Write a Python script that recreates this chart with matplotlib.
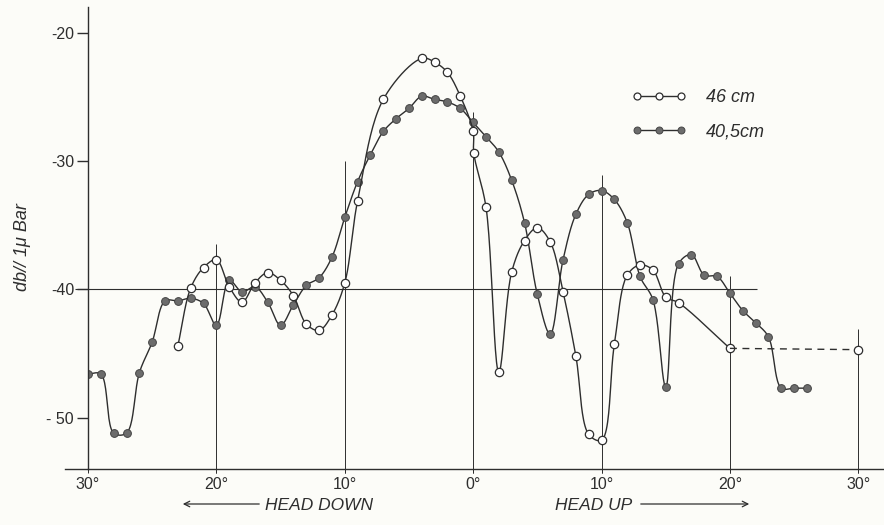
import numpy as np
import matplotlib as mpl
mpl.use('Agg')
import matplotlib.pyplot as plt

# plot settings
mpl.rcParams['font.family'] = ['Liberation Sans', 'DejaVu Sans']
mpl.rcParams['xtick.labelsize'] = 11.5
mpl.rcParams['ytick.labelsize'] = 11.5

# tilt angle [deg], head down negative / head up positive
# 46 cm
ang46 = [-23, -22, -21, -20, -19, -18, -17, -16, -15, -14, -13, -12, -11, -10, -9, -7,
         -4, -3, -2, -1, 0, 0.05, 1, 2, 3, 4, 5, 6, 7, 8, 9, 10, 11, 12, 13, 14, 15, 16, 20]
db46 = [-44.4, -39.9, -38.3, -37.7, -39.8, -41.0, -39.5, -38.7, -39.3, -40.5, -42.7, -43.2, -42.0, -39.5, -33.1, -25.2,
        -22.0, -22.3, -23.1, -24.95, -27.7, -29.4, -33.6, -46.45, -38.65, -36.2, -35.2, -36.3, -40.2, -45.2, -51.3, -51.75,
        -44.25, -38.9, -38.1, -38.5, -40.6, -41.05, -44.6]
# 46 cm, last point (dashed)
ang46_ext = [20, 30]
db46_ext = [-44.6, -44.7]

# 40,5 cm
ang405 = list(range(-30, 27))
db405 = [-46.6, -46.6, -51.2, -51.2, -46.5,
         -44.1, -40.9, -40.9, -40.7, -41.1,
         -42.8, -39.3, -40.2, -39.8, -41.0,
         -42.8, -41.2, -39.7, -39.1, -37.5,
         -34.4, -31.6, -29.5, -27.7, -26.7,
         -25.9, -24.95, -25.2, -25.4, -25.9,
         -27.0, -28.1, -29.3, -31.5, -34.8,
         -40.4, -43.5, -37.7, -34.15, -32.6,
         -32.3, -33.0, -34.8, -39.0, -40.8,
         -47.6, -38.0, -37.3, -38.9, -39.0,
         -40.3, -41.65, -42.6, -43.7, -47.7,
         -47.7, -47.7]

xtick_pos = [-30, -20, -10, 0, 10, 20, 30]
xtick_lbl = ['30°', '20°', '10°', '0°', '10°', '20°', '30°']
ytick_pos = [-20, -30, -40, -50]


def smooth(xs, ys, n=24):
  # centripetal catmull-rom through the measured points (hand drawn look)
  pts = np.column_stack([xs, ys]).astype(float)
  P = np.vstack([2*pts[0]-pts[1], pts, 2*pts[-1]-pts[-2]])
  out = []
  for i in range(1, len(P)-2):
    p0, p1, p2, p3 = P[i-1], P[i], P[i+1], P[i+2]
    t0 = 0.
    t1 = t0 + np.linalg.norm(p1-p0)**0.5
    t2 = t1 + np.linalg.norm(p2-p1)**0.5
    t3 = t2 + np.linalg.norm(p3-p2)**0.5
    t = np.linspace(t1, t2, n)[:, None]
    A1 = (t1-t)/(t1-t0)*p0 + (t-t0)/(t1-t0)*p1
    A2 = (t2-t)/(t2-t1)*p1 + (t-t1)/(t2-t1)*p2
    A3 = (t3-t)/(t3-t2)*p2 + (t-t2)/(t3-t2)*p3
    B1 = (t2-t)/(t2-t0)*A1 + (t-t0)/(t2-t0)*A2
    B2 = (t3-t)/(t3-t1)*A2 + (t-t1)/(t3-t1)*A3
    C = (t2-t)/(t2-t1)*B1 + (t-t1)/(t2-t1)*B2
    out.append(C)
  c = np.vstack(out)
  return c[:, 0], c[:, 1]


lc = '#2e2e2e'
bg = '#fcfcf8'

fig = plt.figure(figsize=(8.84, 5.25), dpi=100, facecolor=bg)
ax = fig.add_axes([88/884., 56/525., 796/884., 462/525.])
ax.set_facecolor(bg)
ax.set_xlim(-30, 32)
ax.set_ylim(-54, -18)

# partial grid lines as in the original drawing
ax.hlines(-40, -31, 22.1, color=lc, lw=0.8, clip_on=False)
for xv, ytop in zip([-20, -10, 0, 10, 20, 30], [-36.5, -30.0, -26.2, -31.1, -39.0, -43.1]):
  ax.vlines(xv, -54.3, ytop, color=lc, lw=0.7, clip_on=False)
ax.plot([-31.8, -30], [-54, -54], color=lc, lw=1.0, clip_on=False)

# curves
xs, ys = smooth(ang405, db405)
ax.plot(xs, ys, color=lc, lw=1.0)
ax.plot(ang405, db405, 'o', ms=5.6, mfc='#6c6c6c', mec='#444444', mew=0.7)
xs, ys = smooth(ang46, db46)
ax.plot(xs, ys, color=lc, lw=1.0)
ax.plot(ang46, db46, 'o', ms=6, mfc='white', mec=lc, mew=0.9)
ax.plot(ang46_ext, db46_ext, '--', color=lc, lw=1.0, dashes=(5, 4))
ax.plot(ang46_ext[1:], db46_ext[1:], 'o', ms=6, mfc='white', mec=lc, mew=0.9)

# axes
for s in ['top', 'right']:
  ax.spines[s].set_visible(False)
ax.spines['left'].set_color(lc)
ax.spines['bottom'].set_color(lc)
ax.spines['left'].set_linewidth(1.0)
ax.spines['bottom'].set_linewidth(1.0)
ax.set_xticks(xtick_pos)
ax.set_xticklabels(xtick_lbl)
ax.set_yticks(ytick_pos)
ax.set_yticklabels(['-20', '-30', '-40', '- 50'])
ax.tick_params('y', length=8, width=1.0, color=lc, labelcolor=lc, pad=2)
ax.tick_params('x', length=3, width=0.7, color=lc, labelcolor=lc, pad=3)
ax.set_ylabel('db// 1μ Bar', style='italic', fontsize=13, color=lc)
ax.yaxis.set_label_coords(-0.072, 0.48)

# legend
h1, = ax.plot([], [], 'o-', color=lc, lw=1.0, ms=5, mfc='white', mec=lc, mew=0.9)
h2, = ax.plot([], [], 'o-', color=lc, lw=1.0, ms=5, mfc='#6c6c6c', mec='#444444', mew=0.7)
leg = ax.legend([h1, h2], ['46 cm', '40,5cm'], numpoints=3, frameon=False, handlelength=3.0,
                handletextpad=1.1, labelspacing=0.95, borderpad=0, borderaxespad=0,
                loc='upper left', bbox_to_anchor=(632/884., 1-89/525.), bbox_transform=fig.transFigure,
                prop={'style': 'italic', 'size': 13})
for t in leg.get_texts():
  t.set_color(lc)

# head down / head up arrows
fig.text(265/884., 1-505/525., 'HEAD DOWN', style='italic', fontsize=12.5, color=lc, va='center', ha='left')
fig.text(555/884., 1-505/525., 'HEAD UP', style='italic', fontsize=12.5, color=lc, va='center', ha='left')
ax.annotate('', xy=(180/884., 1-504/525.), xytext=(262/884., 1-504/525.), xycoords='figure fraction',
            arrowprops=dict(arrowstyle='->', color=lc, lw=0.9))
ax.annotate('', xy=(752/884., 1-504/525.), xytext=(638/884., 1-504/525.), xycoords='figure fraction',
            arrowprops=dict(arrowstyle='->', color=lc, lw=0.9))

plt.savefig('out.png', dpi=100, facecolor=bg)
